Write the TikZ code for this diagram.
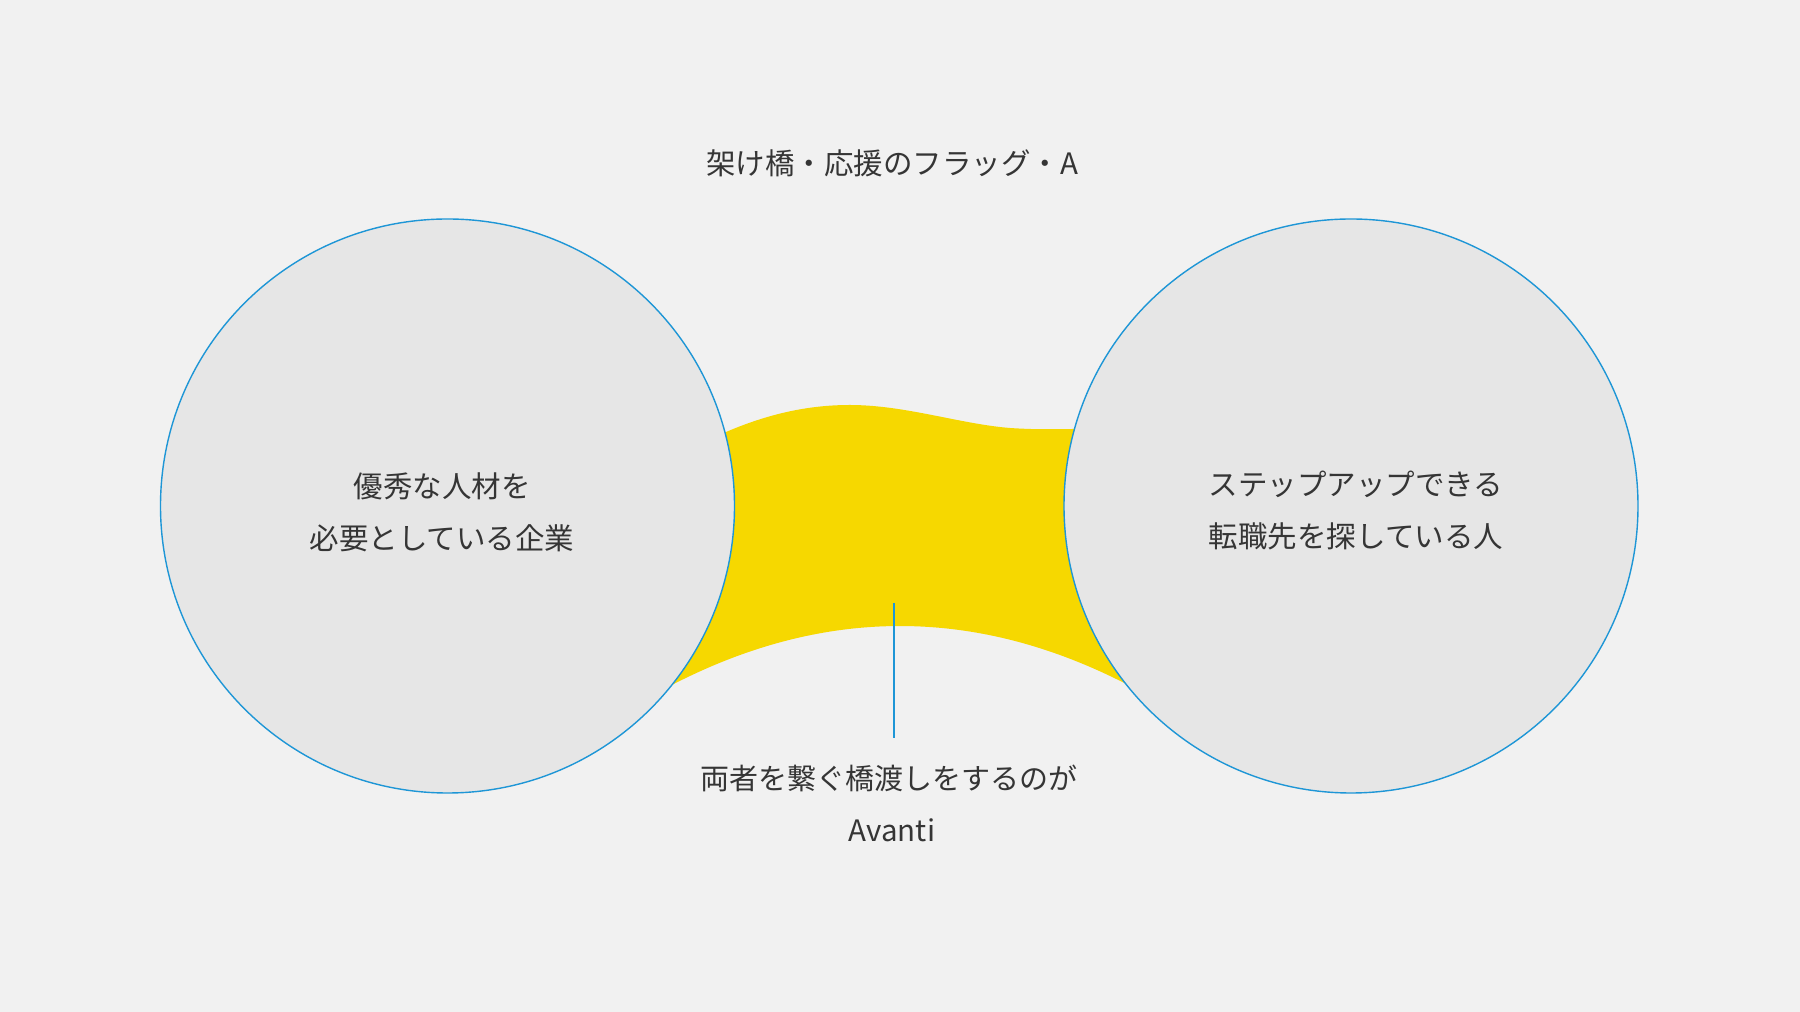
\documentclass[tikz,border=0pt]{standalone}
\usepackage{fontspec}
\setmainfont{Noto Sans CJK JP}
\begin{document}
\begin{tikzpicture}[x=1pt,y=1pt,
  bg/.style={fill=paper},
  circ/.style={fill=circfill,draw=lineblue,line width=1.4pt},
  lbl/.style={anchor=base,inner sep=0pt,text=textgray,font=\fontsize{29.5}{36}\selectfont},
  pointer/.style={draw=lineblue,line width=1.4pt}]
\definecolor{paper}{HTML}{F1F1F1}
\definecolor{circfill}{HTML}{E6E6E6}
\definecolor{lineblue}{HTML}{1E96D6}
\definecolor{bridge}{HTML}{F6D800}
\definecolor{textgray}{HTML}{353535}
\useasboundingbox (0,0) rectangle (1800,1012);
\fill[bg] (0,0) rectangle (1800,1012);
% yellow bridge
\fill[bridge] (447,506) -- (668,325)
  .. controls (822.7,406.3) and (977.3,406.3) .. (1132,325)
  -- (1351,506) -- (1095,583) -- (1073,583)
  .. controls (1060,583) and (1040,582) .. (1010,584)
  .. controls (960,588) and (905,607) .. (850,607)
  .. controls (815,607) and (775,601) .. (726,580)
  -- (700,569) -- cycle;
% circles
\node[circ,circle,minimum size=574pt,inner sep=0pt] (L) at (447.5,506) {};
\node[circ,circle,minimum size=574pt,inner sep=0pt] (R) at (1351,506) {};
% texts
\node[lbl] (title) at (892,837) {架け橋・応援のフラッグ・A};
\node[lbl] (l1) at (442,514) {優秀な人材を};
\node[lbl] (l2) at (442,462) {必要としている企業};
\node[lbl] (r1) at (1356,516) {ステップアップできる};
\node[lbl] (r2) at (1356,464) {転職先を探している人};
\node[lbl,font=\fontsize{29}{36}\selectfont] (b1) at (889,222) {両者を繋ぐ橋渡しをするのが};
\node[lbl] (b2) at (892,170) {Avanti};
% pointer
\coordinate (pin) at (894,409);
\coordinate (pinend) at (894,274);
\draw[pointer] (pin) -- (pinend);
\end{tikzpicture}
\end{document}
